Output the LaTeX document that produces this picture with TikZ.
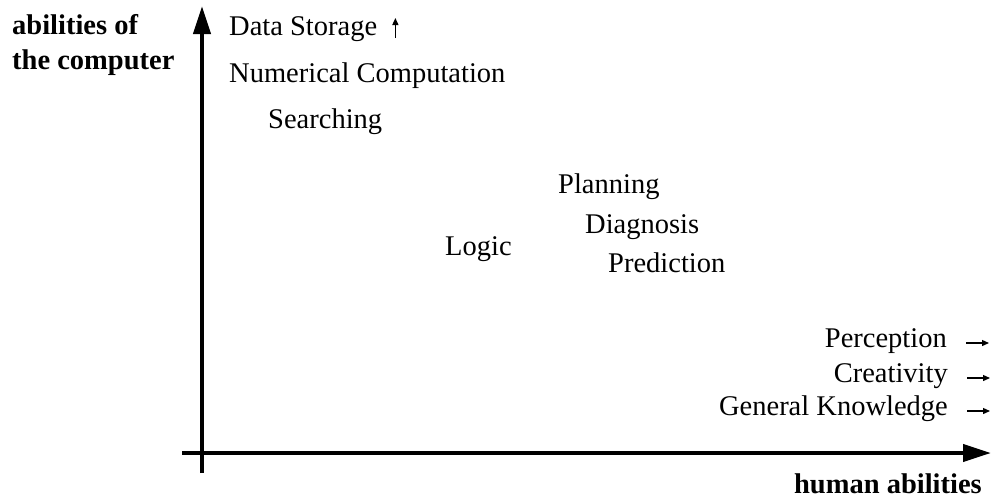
\documentclass[tikz,border=0pt]{standalone}
\usepackage{fontspec}
\setmainfont{Liberation Serif}
\usetikzlibrary{arrows.meta}
\tikzset{
  lbl/.style={inner sep=0pt, font=\fontsize{28.5}{34}\selectfont},
  axislbl/.style={inner sep=0pt, font=\fontsize{28.5}{35}\selectfont\bfseries, align=left},
  axis/.style={line width=4pt, -{Triangle[length=28pt,width=17pt]}},
  more/.style={line width=1.3pt, -{Triangle[length=7pt,width=6pt]}}
}
\begin{document}
\begin{tikzpicture}[x=1pt,y=-1pt]
\useasboundingbox (0,0) rectangle (992,499);
\coordinate (xs) at (182,453);
\coordinate (xe) at (991,453);
\coordinate (ys) at (202,473);
\coordinate (ye) at (202,6);
\draw[axis] (xs) -- (xe);
\draw[axis] (ys) -- (ye);
\node[axislbl, anchor=north west] (ylab) at (12,14) {abilities of\\the computer};
\node[axislbl, anchor=base east] (xlab) at (982,493) {human abilities};
\node[lbl, anchor=base west] (storage) at (229,35) {Data Storage};
\node[lbl, anchor=base west] (numeric) at (229,82) {Numerical Computation};
\node[lbl, anchor=base west] (search) at (268,128) {Searching};
\node[lbl, anchor=base west] (plan) at (558,193) {Planning};
\node[lbl, anchor=base west] (diag) at (585,233) {Diagnosis};
\node[lbl, anchor=base west] (logic) at (445,255) {Logic};
\node[lbl, anchor=base west] (pred) at (608,272) {Prediction};
\node[lbl, anchor=base east] (perc) at (947,347) {Perception};
\node[lbl, anchor=base east] (creat) at (948,382) {Creativity};
\node[lbl, anchor=base east] (know) at (948,415) {General Knowledge};
\draw[more] ([xshift=18pt,yshift=-3pt]storage.base east) -- ++(0,-20);
\draw[more] ([xshift=19pt,yshift=4pt]perc.base east) -- ++(23,0);
\draw[more] ([xshift=19pt,yshift=4pt]creat.base east) -- ++(23,0);
\draw[more] ([xshift=19pt,yshift=4pt]know.base east) -- ++(23,0);
\end{tikzpicture}
\end{document}
